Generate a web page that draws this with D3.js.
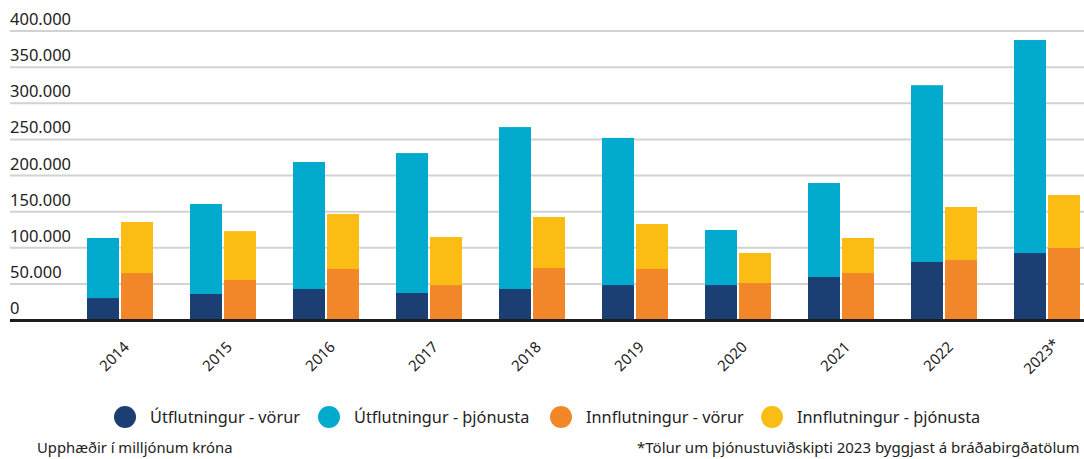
<!DOCTYPE html>
<html lang="is">
<head>
    <meta charset="UTF-8">
    <title>Útflutningur og innflutningur</title>
    <script src="https://d3js.org/d3.v7.min.js"></script>
    <style>
        body { margin: 0; background: #fff; }
        text { font-family: "Noto Sans", "Open Sans", sans-serif; fill: #222; }
        .grid line { stroke: #d2d2d2; stroke-width: 2px; }
    </style>
</head>
<body>
    <svg width="1084" height="459"></svg>
    <script>
        const width = 1084;
        const height = 459;

        // Data (milljónir króna)
        const years = ["2014", "2015", "2016", "2017", "2018", "2019", "2020", "2021", "2022", "2023*"];
        const exportGoods    = [30400, 36000, 42900, 37400, 42900, 48400, 48400, 59500, 80300, 92700];
        const exportServices = [83100, 124600, 175800, 193600, 224100, 203600, 76200, 130100, 244700, 294800];
        const importGoods    = [65000, 55400, 70600, 48400, 72000, 70600, 51200, 65000, 83000, 99700];
        const importServices = [70600, 67600, 76100, 66500, 70600, 62300, 41500, 48500, 73400, 73300];

        const yTicks = [0, 50000, 100000, 150000, 200000, 250000, 300000, 350000, 400000];
        const seriesNames = ["Útflutningur - vörur", "Útflutningur - þjónusta", "Innflutningur - vörur", "Innflutningur - þjónusta"];
        const colors = ["#1b3f73", "#02abce", "#f2872a", "#fbbd14"];

        const svg = d3.select("svg");

        const x0 = d3.scaleBand()
            .domain(years)
            .range([68.5, 1098.5]);

        // two stacks per year: exports and imports
        const x1 = d3.scaleBand()
            .domain(["ut", "inn"])
            .range([0, 66])
            .paddingInner(2 / 34);

        const y = d3.scaleLinear()
            .domain([0, 400000])
            .range([320, 31]);

        const fmt = d => d3.format(",")(d).replace(/,/g, ".");

        // gridlines
        const grid = svg.append("g").attr("class", "grid");
        grid.selectAll("line")
            .data(yTicks)
            .enter().append("line")
            .attr("x1", 10)
            .attr("x2", width)
            .attr("y1", d => y(d))
            .attr("y2", d => y(d));

        grid.selectAll("text")
            .data(yTicks)
            .enter().append("text")
            .attr("x", 10)
            .attr("y", d => y(d) - 6)
            .style("font-size", "16.5px")
            .text(d => fmt(d));

        // build stacks
        const rows = years.map((yr, i) => ({
            year: yr,
            ut: [[0, exportGoods[i], 0], [exportGoods[i], exportGoods[i] + exportServices[i], 1]],
            inn: [[0, importGoods[i], 2], [importGoods[i], importGoods[i] + importServices[i], 3]]
        }));

        const groups = svg.append("g").selectAll("g")
            .data(rows)
            .enter().append("g")
            .attr("transform", d => `translate(${x0(d.year) + (x0.bandwidth() - 66) / 2},0)`);

        ["ut", "inn"].forEach(k => {
            groups.selectAll("rect." + k)
                .data(d => d[k])
                .enter().append("rect")
                .attr("class", k)
                .attr("x", x1(k))
                .attr("width", x1.bandwidth())
                .attr("y", d => y(d[1]))
                .attr("height", d => y(d[0]) - y(d[1]))
                .attr("fill", d => colors[d[2]]);
        });

        // baseline
        svg.append("line")
            .attr("x1", 10).attr("x2", width)
            .attr("y1", y(0) + 0.5).attr("y2", y(0) + 0.5)
            .attr("stroke", "#1d1d1b")
            .attr("stroke-width", 3);

        // x labels
        svg.append("g").selectAll("text")
            .data(years)
            .enter().append("text")
            .attr("text-anchor", "middle")
            .attr("transform", d => `translate(${x0(d) + x0.bandwidth() / 2 - 2},360) rotate(-45)`)
            .style("font-size", "15px")
            .text(d => d);

        // legend (item left edges)
        const legendX = [114, 318, 550, 761];
        const legend = svg.append("g");
        seriesNames.forEach((name, i) => {
            legend.append("circle")
                .attr("cx", legendX[i] + 11)
                .attr("cy", 417)
                .attr("r", 11)
                .attr("fill", colors[i]);
            legend.append("text")
                .attr("x", legendX[i] + 36)
                .attr("y", 423)
                .style("font-size", "16.3px")
                .text(name);
        });

        // footer notes
        svg.append("text")
            .attr("x", 37)
            .attr("y", 453)
            .style("font-size", "14.8px")
            .text("Upphæðir í milljónum króna");

        svg.append("text")
            .attr("x", 637)
            .attr("y", 453)
            .style("font-size", "15px")
            .text("*Tölur um þjónustuviðskipti 2023 byggjast á bráðabirgðatölum");
    </script>
</body>
</html>
